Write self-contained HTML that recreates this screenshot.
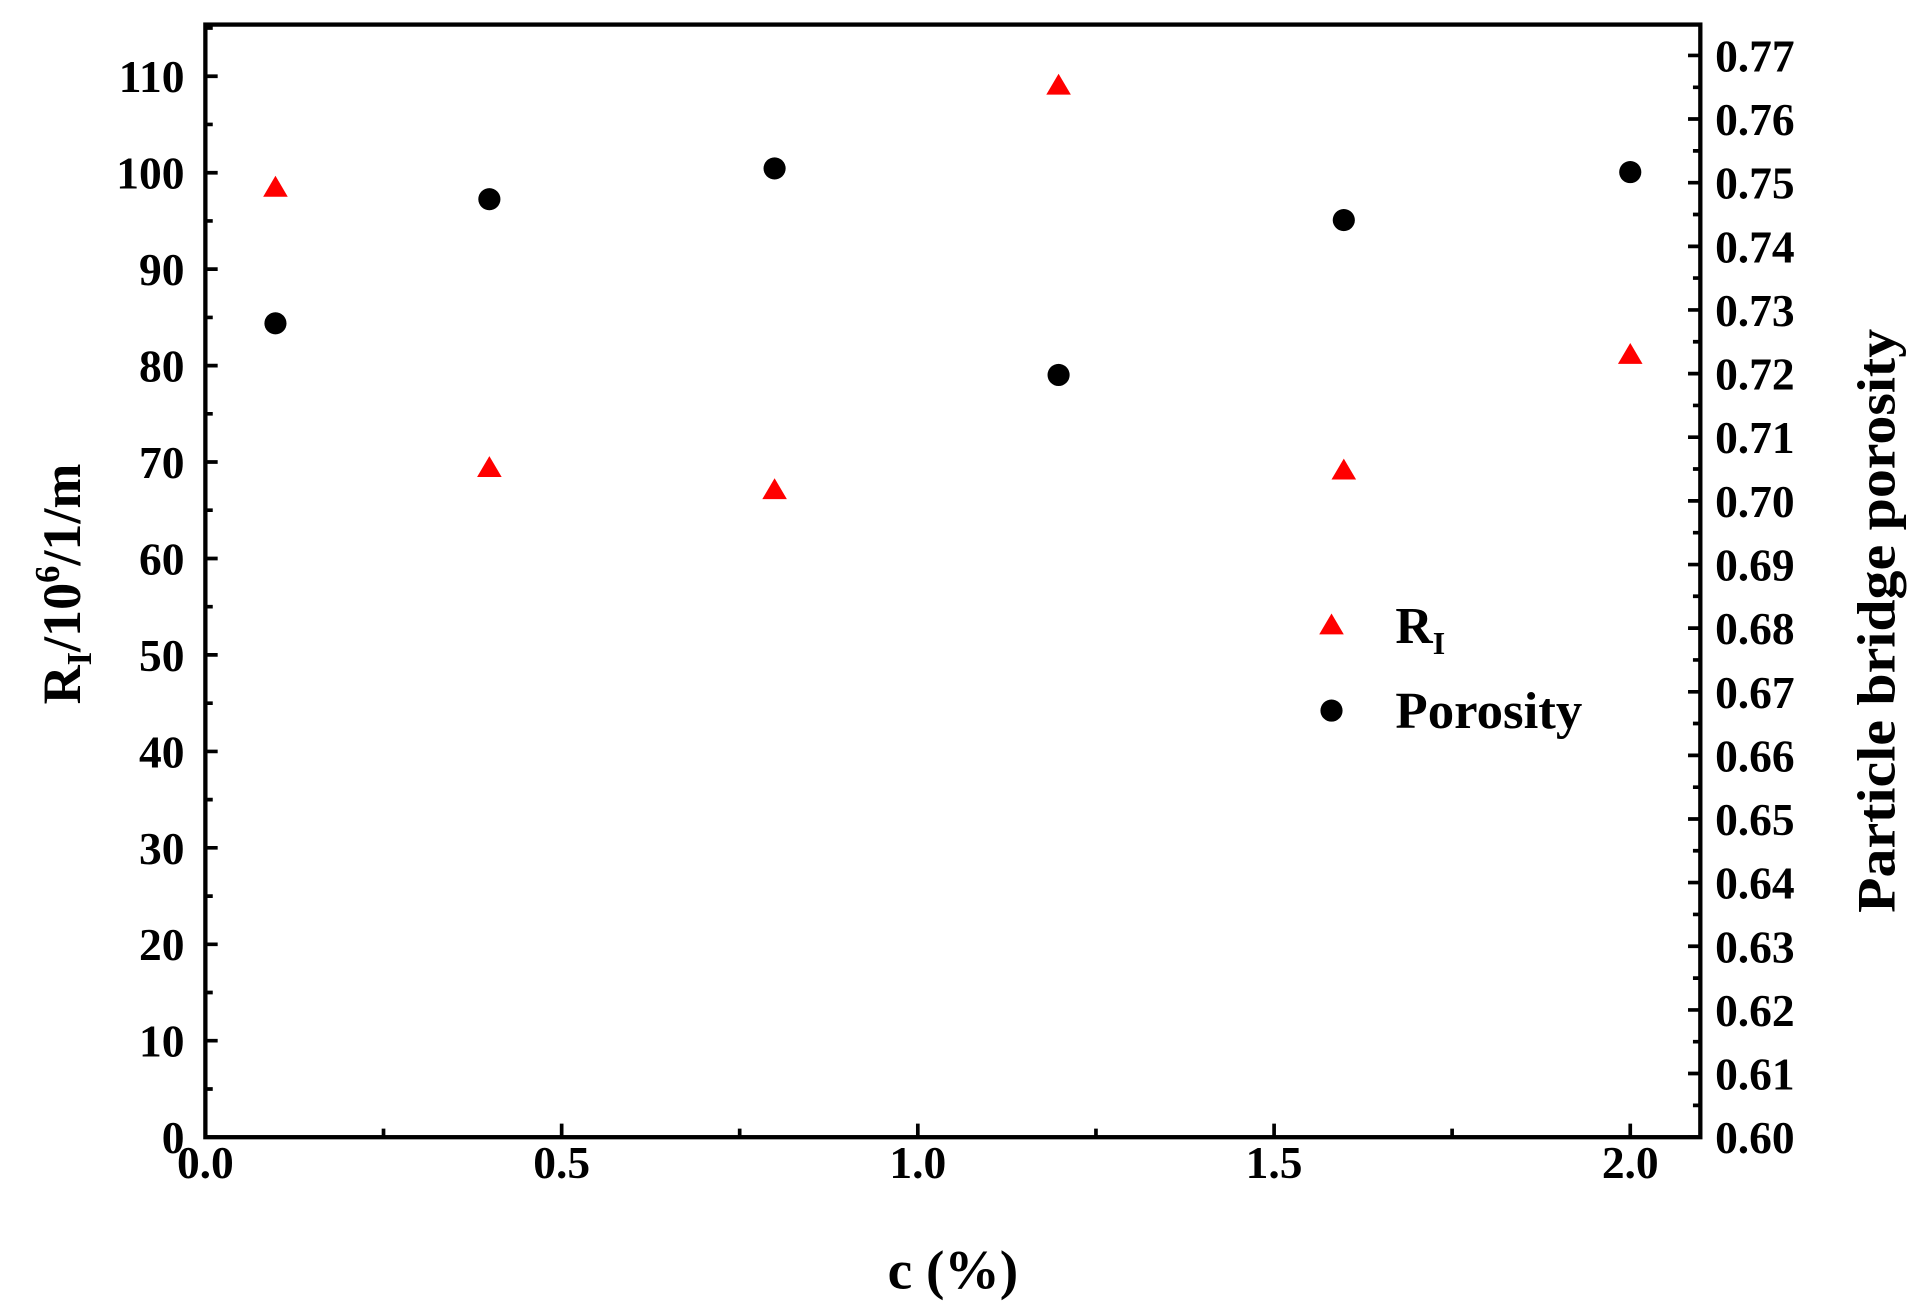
<!DOCTYPE html>
<html><head><meta charset="utf-8"><style>html,body{margin:0;padding:0;background:#fff;}svg{display:block}</style></head>
<body>
<svg width="1918" height="1313" viewBox="0 0 1560 1068" xmlns="http://www.w3.org/2000/svg" font-family="Liberation Serif, serif" font-weight="bold">
<rect x="0" y="0" width="1560" height="1068" fill="#fff"/>
<rect x="167" y="20" width="1216" height="905" fill="none" stroke="#000" stroke-width="3.5"/>
<path stroke="#000" stroke-width="3" fill="none" d="
M167 925h10M167 846.5h10M167 768.1h10M167 689.6h10M167 611.2h10M167 532.7h10M167 454.3h10M167 375.8h10M167 297.4h10M167 218.9h10M167 140.5h10M167 62h10
M167 885.8h6M167 807.3h6M167 728.9h6M167 650.4h6M167 572h6M167 493.5h6M167 415h6M167 336.6h6M167 258.2h6M167 179.7h6M167 101.2h6M167 22.8h6
M1383 925h-10M1383 873.2h-10M1383 821.5h-10M1383 769.7h-10M1383 717.9h-10M1383 666.2h-10M1383 614.4h-10M1383 562.7h-10M1383 510.9h-10M1383 459.2h-10M1383 407.4h-10M1383 355.6h-10M1383 303.9h-10M1383 252.1h-10M1383 200.4h-10M1383 148.6h-10M1383 96.8h-10M1383 45.1h-10
M1383 899.1h-6M1383 847.3h-6M1383 795.6h-6M1383 743.8h-6M1383 692h-6M1383 640.3h-6M1383 588.5h-6M1383 536.8h-6M1383 485h-6M1383 433.3h-6M1383 381.5h-6M1383 329.8h-6M1383 278h-6M1383 226.2h-6M1383 174.5h-6M1383 122.7h-6M1383 71h-6
M456.8 925v-11M746.5 925v-11M1036.3 925v-11M1326 925v-11
M311.9 925v-7M601.6 925v-7M891.4 925v-7M1181.1 925v-7
"/>
<g font-size="37" text-anchor="end">
<text x="150" y="938">0</text><text x="150" y="859.5">10</text><text x="150" y="781">20</text><text x="150" y="702.6">30</text><text x="150" y="624.2">40</text><text x="150" y="545.7">50</text><text x="150" y="467.3">60</text><text x="150" y="388.8">70</text><text x="150" y="310.4">80</text><text x="150" y="231.9">90</text><text x="150" y="153.5">100</text><text x="150" y="75">110</text>
</g>
<g font-size="37" text-anchor="start">
<text x="1395" y="938">0.60</text><text x="1395" y="886.2">0.61</text><text x="1395" y="834.5">0.62</text><text x="1395" y="782.7">0.63</text><text x="1395" y="730.9">0.64</text><text x="1395" y="679.2">0.65</text><text x="1395" y="627.4">0.66</text><text x="1395" y="575.7">0.67</text><text x="1395" y="523.9">0.68</text><text x="1395" y="472.2">0.69</text><text x="1395" y="420.4">0.70</text><text x="1395" y="368.6">0.71</text><text x="1395" y="316.9">0.72</text><text x="1395" y="265.1">0.73</text><text x="1395" y="213.4">0.74</text><text x="1395" y="161.6">0.75</text><text x="1395" y="109.8">0.76</text><text x="1395" y="58.1">0.77</text>
</g>
<g font-size="37" text-anchor="middle">
<text x="167" y="958">0.0</text><text x="456.8" y="958">0.5</text><text x="746.5" y="958">1.0</text><text x="1036.3" y="958">1.5</text><text x="1326" y="958">2.0</text>
</g>
<text x="775" y="1048" font-size="45" text-anchor="middle">c (%)</text>
<text transform="translate(65,475) rotate(-90)" font-size="44" text-anchor="middle">R<tspan font-size="28" dy="9">I</tspan><tspan dy="-9">/10</tspan><tspan font-size="28" dy="-17">6</tspan><tspan dy="17">/1/m</tspan></text>
<text transform="translate(1541,505) rotate(-90)" font-size="44" text-anchor="middle" textLength="475" lengthAdjust="spacingAndGlyphs">Particle bridge porosity</text>
<g fill="#f00">
<path d="M224 143l10 17h-20z"/><path d="M398 371l10 17h-20z"/><path d="M630 389l10 17h-20z"/><path d="M861 60l10 17h-20z"/><path d="M1093 373l10 17h-20z"/><path d="M1326 279l10 17h-20z"/>
<path d="M1083 499l10 17h-20z"/>
</g>
<g fill="#000">
<circle cx="224" cy="263" r="9"/><circle cx="398" cy="162" r="9"/><circle cx="630" cy="137" r="9"/><circle cx="861" cy="305" r="9"/><circle cx="1093" cy="179" r="9"/><circle cx="1326" cy="140" r="9"/>
<circle cx="1083" cy="578" r="9"/>
</g>
<text x="1135" y="523" font-size="42">R<tspan font-size="26" dy="9">I</tspan></text>
<text x="1135" y="592" font-size="42" textLength="152" lengthAdjust="spacingAndGlyphs">Porosity</text>
</svg>
</body></html>
